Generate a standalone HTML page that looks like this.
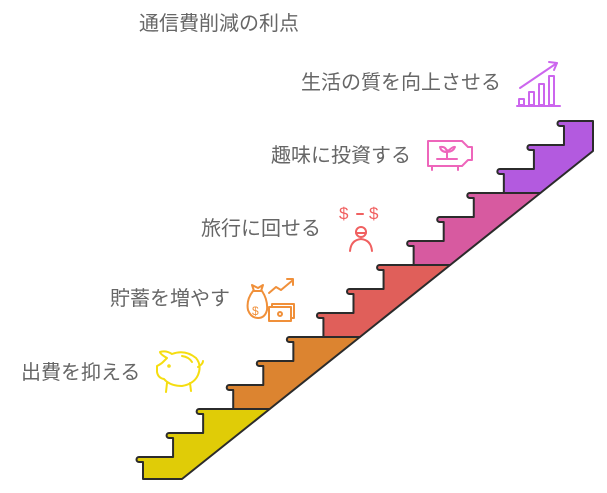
<!DOCTYPE html>
<html><head><meta charset="utf-8"><style>
html,body{margin:0;padding:0;background:#fff;}
body{width:607px;height:493px;position:relative;overflow:hidden;font-family:"Liberation Sans","Noto Sans CJK JP",sans-serif;}
.t{position:absolute;color:#666;font-size:20px;white-space:nowrap;line-height:1;}
</style></head><body>
<div class="t" style="left:139px;top:14px;">通信費削減の利点</div>
<div class="t" style="left:301px;top:73px;">生活の質を向上させる</div>
<div class="t" style="left:271px;top:146px;">趣味に投資する</div>
<div class="t" style="left:201px;top:219px;">旅行に回せる</div>
<div class="t" style="left:110px;top:289px;">貯蓄を増やす</div>
<div class="t" style="left:21px;top:363px;">出費を抑える</div>
<svg id="s" width="607" height="493" style="position:absolute;left:0;top:0">
<g fill="none" stroke-width="2" stroke-linecap="round" stroke-linejoin="round">
<g stroke="#cc66ee">
<line x1="517" y1="106" x2="560" y2="106"/>
<rect x="519" y="99" width="5" height="6"/><rect x="529" y="92" width="5" height="13"/><rect x="539" y="84" width="5" height="21"/><rect x="549" y="76" width="5" height="29"/>
<line x1="520" y1="88" x2="557" y2="63"/><polyline points="549,62 557,63 554,70"/>
</g>
<g stroke="#ee66bb">
<path d="M428 141 H462 L468 147 H472 V160 H468 L462 166 H428 Z"/>
<line x1="432" y1="166" x2="432" y2="170"/><line x1="458" y1="166" x2="458" y2="170"/>
<path d="M437 159 H457 M447 159 V150 M447 152 Q441 152 440 147 Q446 146 447 152 Q453 146 455 147 Q453 152 447 152"/>
</g>
<g stroke="#f06060">
<text x="339" y="219" fill="#f06060" stroke="none" font-size="17" font-family="Liberation Sans,sans-serif">$</text>
<line x1="357" y1="214" x2="363" y2="214"/>
<text x="369" y="219" fill="#f06060" stroke="none" font-size="17" font-family="Liberation Sans,sans-serif">$</text>
<circle cx="361" cy="232" r="5"/><line x1="356" y1="233" x2="366" y2="233"/>
<path d="M350 251 Q351 240 361 239 Q371 240 372 251"/>
</g>
<g stroke="#f0903a">
<path d="M253 291 Q246 300 248 310 Q251 318 258 318 Q265 318 267 310 Q268 300 262 291 Z"/>
<path d="M254 291 L252 285 L258 288 L263 285 L261 291"/>
<text x="252" y="315" fill="#f0903a" stroke="none" font-size="12" font-family="Liberation Sans,sans-serif">$</text>
<rect x="269" y="307" width="22" height="14"/><path d="M272 307 V304 H294 V318 H291"/><circle cx="280" cy="314" r="2"/>
<polyline points="269,293 276,287 281,290 293,280"/><polyline points="287,279 293,279 293,285"/>
</g>
<g stroke="#f5dd10">
<path d="M167 358 Q160 354 160 352 Q166 350 172 354 Q185 349 196 358 Q202 365 198 375 Q194 384 182 386 Q170 386 164 379 Q158 378 157 372 L157 366 Q161 364 163 362 Z"/>
<path d="M167 383 L166 392 M190 383 L191 391 M198 367 Q203 364 203 361"/>
<circle cx="169" cy="366" r="0.8"/><path d="M182 356 Q189 357 192 362"/>
</g>
</g>
</svg>
<script>
(function(){
var s=document.getElementById('s');
var X=function(i){return 143+30.07*i;},Y=function(i){return 457-24*i;};
var D=function(y){return 182+(479-y)/0.798;};
var cols=['#e0cc07','#dc8430','#e05f5a','#d75aa0','#b35adf'];
var ns='http://www.w3.org/2000/svg';
for(var g=0;g<5;g++){
 var yb=g==0?479:Y(3*g-1);
 var d='M'+X(3*g)+' '+yb;
 for(var k=0;k<3;k++){
  var i=3*g+k,x=X(i),yt=Y(i);
  d+=' L'+x+' '+(yt+5)+' L'+(x-4)+' '+(yt+5)+' A2.5 2.5 0 0 1 '+(x-4)+' '+yt;
  if(k<2) d+=' L'+X(i+1)+' '+yt;
 }
 var yt2=Y(3*g+2);
 if(g<4) d+=' L'+D(yt2)+' '+yt2;
 else d+=' L593 '+yt2+' L593 151';
 d+=' L'+D(yb)+' '+yb+' Z';
 var p=document.createElementNS(ns,'path');
 p.setAttribute('d',d);p.setAttribute('fill',cols[g]);p.setAttribute('stroke','#2b2b2b');
 p.setAttribute('stroke-width','2');p.setAttribute('stroke-linejoin','round');
 s.appendChild(p);
}
})();
</script>
</body></html>
